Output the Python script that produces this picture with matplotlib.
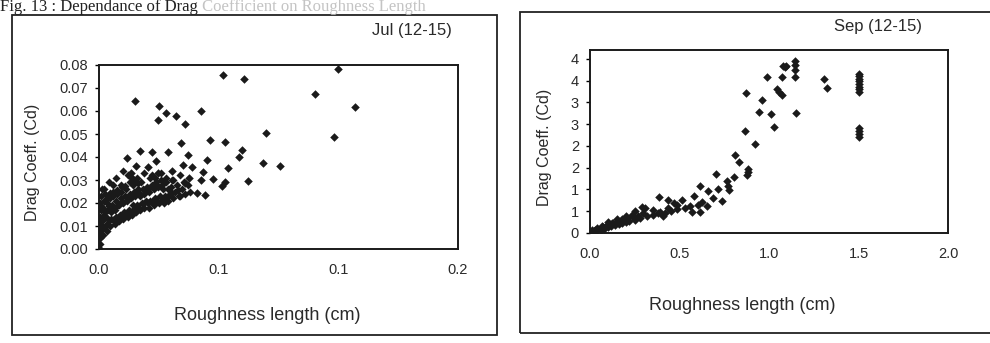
import matplotlib
matplotlib.use('Agg')
import matplotlib.pyplot as plt
from matplotlib.patches import Rectangle

plt.rcParams['font.family'] = ['Liberation Sans', 'DejaVu Sans']

# Jul (12-15): roughness length (cm) vs drag coeff
jul_x = [0.0518, 0.0604, 0.0997, 0.0903, 0.1070, 0.0982, 0.0696, 0.0149, 0.0250, 0.0279,
         0.0320, 0.0245, 0.0360, 0.0426, 0.0342, 0.0465, 0.0526, 0.0597, 0.0585, 0.0685,
         0.0758, 0.0622, 0.0540, 0.0514, 0.0528, 0.0453, 0.0372, 0.0390, 0.0436, 0.0476,
         0.0428, 0.0376, 0.0408, 0.0444, 0.0351, 0.0288, 0.0221, 0.0172, 0.0117, 0.0155,
         0.0203, 0.0240, 0.0306, 0.0358, 0.0133, 0.0133, 0.0247]
jul_y = [0.0758, 0.0741, 0.0783, 0.0673, 0.0617, 0.0486, 0.0505, 0.0642, 0.0620, 0.0592,
         0.0579, 0.0559, 0.0544, 0.0599, 0.0462, 0.0473, 0.0464, 0.0432, 0.0400, 0.0376,
         0.0362, 0.0297, 0.0351, 0.0276, 0.0290, 0.0385, 0.0408, 0.0355, 0.0336, 0.0306,
         0.0301, 0.0310, 0.0245, 0.0235, 0.0367, 0.0420, 0.0420, 0.0427, 0.0397, 0.0359,
         0.0356, 0.0382, 0.0340, 0.0286, 0.0332, 0.0314, 0.0329]

# dense cluster near the origin (Jul)
jul_cx = [0.0003, 0.0005, 0.0002, 0.0006, 0.0003, 0.0008, 0.0004, 0.0010,
          0.0015, 0.0018, 0.0014, 0.0020, 0.0017, 0.0022, 0.0025,
          0.0032, 0.0035, 0.0030, 0.0038, 0.0033, 0.0040,
          0.0048, 0.0052, 0.0050, 0.0055, 0.0047, 0.0058,
          0.0065, 0.0070, 0.0068, 0.0072, 0.0075,
          0.0085, 0.0088, 0.0082, 0.0090, 0.0093,
          0.0102, 0.0105, 0.0100, 0.0108, 0.0112,
          0.0120, 0.0125, 0.0118, 0.0128,
          0.0138, 0.0142, 0.0135, 0.0145, 0.0140,
          0.0155, 0.0160, 0.0152, 0.0163,
          0.0172, 0.0178, 0.0170, 0.0182, 0.0175,
          0.0190, 0.0195, 0.0188, 0.0200,
          0.0210, 0.0215, 0.0208, 0.0220, 0.0212,
          0.0228, 0.0235, 0.0230, 0.0240,
          0.0250, 0.0255, 0.0248, 0.0260,
          0.0270, 0.0275, 0.0268, 0.0280,
          0.0290, 0.0295, 0.0300, 0.0310, 0.0318, 0.0325, 0.0335, 0.0345, 0.0360, 0.0355,
          0.0020, 0.0040, 0.0070, 0.0090, 0.0120, 0.0160, 0.0190, 0.0220, 0.0260, 0.0280,
          0.0310, 0.0340, 0.0370, 0.0380, 0.0100, 0.0130,
          0.0009, 0.0012, 0.0007, 0.0026, 0.0024, 0.0028, 0.0043, 0.0041, 0.0045,
          0.0060, 0.0062, 0.0057, 0.0078, 0.0080, 0.0077, 0.0096, 0.0097, 0.0095,
          0.0113, 0.0115, 0.0110, 0.0131, 0.0133, 0.0148, 0.0150, 0.0147, 0.0166,
          0.0168, 0.0165, 0.0184, 0.0186, 0.0203, 0.0205, 0.0222, 0.0225, 0.0242,
          0.0245, 0.0263, 0.0265, 0.0285, 0.0287, 0.0305, 0.0307, 0.0328, 0.0340,
          0.0002, 0.0001, 0.0012, 0.0060, 0.0150, 0.0232]
jul_cy = [0.002, 0.005, 0.008, 0.011, 0.014, 0.017, 0.020, 0.023,
          0.006, 0.009, 0.012, 0.015, 0.018, 0.021, 0.024,
          0.008, 0.011, 0.014, 0.017, 0.020, 0.023,
          0.010, 0.013, 0.016, 0.019, 0.022, 0.025,
          0.011, 0.014, 0.017, 0.021, 0.024,
          0.012, 0.015, 0.019, 0.022, 0.025,
          0.013, 0.016, 0.020, 0.023, 0.026,
          0.014, 0.017, 0.021, 0.024,
          0.015, 0.019, 0.022, 0.025, 0.028,
          0.016, 0.019, 0.023, 0.026,
          0.017, 0.020, 0.023, 0.026, 0.029,
          0.018, 0.021, 0.024, 0.027,
          0.018, 0.021, 0.025, 0.028, 0.031,
          0.019, 0.022, 0.026, 0.029,
          0.020, 0.023, 0.027, 0.030,
          0.020, 0.023, 0.026, 0.029,
          0.021, 0.024, 0.027, 0.022, 0.025, 0.028, 0.023, 0.026, 0.024, 0.029,
          0.026, 0.029, 0.031, 0.028, 0.032, 0.031, 0.033, 0.032, 0.033, 0.031,
          0.030, 0.032, 0.028, 0.025, 0.034, 0.029,
          0.0065, 0.0125, 0.0185, 0.0095, 0.0160, 0.0215, 0.0125, 0.0185, 0.0245,
          0.0125, 0.0180, 0.0230, 0.0130, 0.0190, 0.0255, 0.0145, 0.0205, 0.0270,
          0.0150, 0.0215, 0.0275, 0.0160, 0.0225, 0.0175, 0.0240, 0.0300, 0.0180,
          0.0245, 0.0285, 0.0195, 0.0255, 0.0200, 0.0260, 0.0205, 0.0270, 0.0210,
          0.0275, 0.0215, 0.0280, 0.0225, 0.0260, 0.0245, 0.0300, 0.0255, 0.0230,
          0.0005, 0.0120, 0.0260, 0.0280, 0.0290, 0.0310]

# Sep (12-15)
sep_x = [0.872, 0.987, 1.071, 1.080, 1.090, 1.095, 1.145, 1.145, 1.145, 1.145,
         1.305, 1.324, 1.500, 1.500, 1.500, 1.500, 1.500, 1.500, 1.500, 1.500,
         1.500, 1.500, 1.500, 1.500,
         1.043, 1.058, 1.072, 0.959, 0.946, 1.010, 1.028, 1.153, 0.868, 0.922,
         0.812, 0.831, 0.885, 0.882, 0.879, 0.804, 0.704, 0.768, 0.772, 0.775,
         0.717, 0.737, 0.615, 0.661, 0.689, 0.579, 0.385, 0.438, 0.512, 0.470,
         0.624, 0.605, 0.652, 0.559, 0.531, 0.568, 0.615, 0.484, 0.484, 0.438,
         0.419, 0.391, 0.354, 0.307, 0.298, 0.270, 0.233, 0.205, 0.177, 0.149,
         0.121, 0.093, 0.065, 0.037, 0.009, 0.289,
         0.005, 0.020, 0.040, 0.060, 0.080, 0.100, 0.120, 0.140, 0.160, 0.180,
         0.200, 0.220, 0.250, 0.100, 0.150, 0.200, 0.250, 0.280, 0.320, 0.350,
         0.380, 0.410, 0.450, 0.030, 0.070, 0.130, 0.180, 0.240]
sep_y = [3.21, 3.58, 3.59, 3.83, 3.80, 3.84, 3.95, 3.85, 3.73, 3.58,
         3.54, 3.33, 3.66, 3.60, 3.54, 3.48, 3.42, 3.36, 3.30, 3.23,
         2.42, 2.35, 2.28, 2.20,
         3.31, 3.24, 3.16, 3.06, 2.78, 2.72, 2.43, 2.75, 2.34, 2.05,
         1.79, 1.62, 1.46, 1.40, 1.34, 1.29, 1.36, 1.19, 1.07, 0.99,
         1.02, 0.73, 1.09, 0.96, 0.80, 0.84, 0.82, 0.76, 0.75, 0.70,
         0.72, 0.65, 0.62, 0.61, 0.57, 0.49, 0.49, 0.65, 0.55, 0.57,
         0.45, 0.49, 0.42, 0.57, 0.45, 0.38, 0.42, 0.34, 0.30, 0.26,
         0.22, 0.18, 0.15, 0.11, 0.07, 0.59,
         0.02, 0.04, 0.06, 0.08, 0.10, 0.13, 0.15, 0.18, 0.20, 0.23,
         0.25, 0.28, 0.30, 0.25, 0.33, 0.40, 0.50, 0.35, 0.40, 0.52,
         0.45, 0.38, 0.50, 0.08, 0.14, 0.22, 0.31, 0.36]

jul_xticks = [0.0, 0.05, 0.10, 0.15]
jul_xlabels = ['0.0', '0.1', '0.1', '0.2']
jul_yticks = [0.00, 0.01, 0.02, 0.03, 0.04, 0.05, 0.06, 0.07, 0.08]
jul_ylabels = ['0.00', '0.01', '0.02', '0.03', '0.04', '0.05', '0.06', '0.07', '0.08']
sep_xticks = [0.0, 0.5, 1.0, 1.5, 2.0]
sep_xlabels = ['0.0', '0.5', '1.0', '1.5', '2.0']
sep_yticks = [0.0, 0.5, 1.0, 1.5, 2.0, 2.5, 3.0, 3.5, 4.0]
sep_ylabels = ['0', '1', '1', '2', '2', '3', '3', '4', '4']

txt = '#2a2a2a'
fig = plt.figure(figsize=(9.9, 3.43), dpi=100)

# frames round each chart on the scanned page
fig.patches.append(Rectangle((12 / 990, 1 - 335 / 343), 485 / 990, 320 / 343,
                             transform=fig.transFigure, fill=False, lw=1.3, ec='#222222'))
fig.patches.append(Rectangle((520 / 990, 1 - 333 / 343), 500 / 990, 321 / 343,
                             transform=fig.transFigure, fill=False, lw=1.3, ec='#222222'))

# caption at the top (faded in the scan after "Drag")
t1 = fig.text(0.0, 1 - 11 / 343, 'Fig. 13 : Dependance of Drag', family='Liberation Serif',
              fontsize=12, color='#222222', va='baseline', ha='left')
fig.add_artist(matplotlib.text.Annotation(
    ' Coefficient on Roughness Length', xy=(1, 0), xycoords=t1, va='bottom', ha='left',
    family='Liberation Serif', fontsize=12, color='#c4c4c4'))

ax1 = fig.add_axes([99 / 990, 1 - 249 / 343, 359 / 990, 184 / 343])
ax2 = fig.add_axes([590 / 990, 1 - 233 / 343, 358 / 990, 183 / 343])

ax1.scatter(jul_cx, jul_cy, marker='D', s=17, color='#1a1a1a', lw=0)
ax1.scatter(jul_x, jul_y, marker='D', s=19, color='#1a1a1a', lw=0)
ax2.scatter(sep_x, sep_y, marker='D', s=19, color='#1a1a1a', lw=0)

ax1.set_xlim(0, 0.15)
ax1.set_ylim(0, 0.08)
ax1.set_xticks(jul_xticks, jul_xlabels)
ax1.set_yticks(jul_yticks, jul_ylabels)
ax2.set_xlim(0, 2.0)
ax2.set_ylim(0, 4.2)
ax2.set_xticks(sep_xticks, sep_xlabels)
ax2.set_yticks(sep_yticks, sep_ylabels)

for ax in (ax1, ax2):
    for sp in ax.spines.values():
        sp.set_linewidth(1.4)
        sp.set_color('#1a1a1a')
    ax.tick_params(axis='x', length=0, pad=10, labelsize=10.5, labelcolor=txt)
    ax.tick_params(axis='y', length=3, width=1, direction='out', pad=5,
                   labelsize=10.5, labelcolor=txt)

fig.text(267 / 990, 1 - 315 / 343, 'Roughness length (cm)', ha='center', va='center',
         fontsize=13, color=txt)
fig.text(742 / 990, 1 - 305 / 343, 'Roughness length (cm)', ha='center', va='center',
         fontsize=13, color=txt)
fig.text(32 / 990, 1 - 162 / 343, 'Drag Coeff. (Cd)', rotation=90, ha='center',
         va='center', fontsize=11.5, color=txt)
fig.text(545 / 990, 1 - 147 / 343, 'Drag Coeff. (Cd)', rotation=90, ha='center',
         va='center', fontsize=11.5, color=txt)
fig.text(412 / 990, 1 - 31 / 343, 'Jul (12-15)', ha='center', va='center',
         fontsize=12, color=txt)
fig.text(878 / 990, 1 - 27 / 343, 'Sep (12-15)', ha='center', va='center',
         fontsize=12, color=txt)

fig.savefig('out.png', dpi=100)
